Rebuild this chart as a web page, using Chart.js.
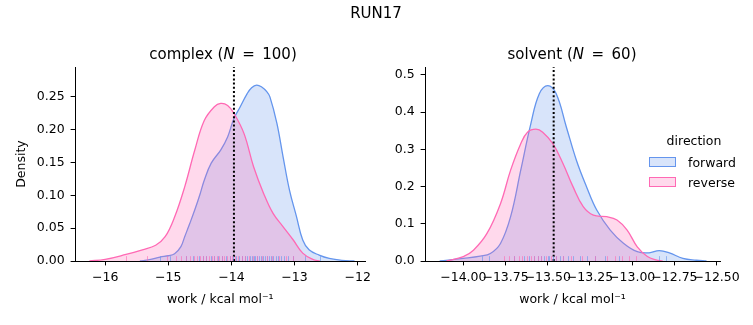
<!DOCTYPE html>
<html>
<head>
<meta charset="utf-8">
<script src="https://cdn.jsdelivr.net/npm/chart.js@4.4.1/dist/chart.umd.min.js"></script>
<style>
  body { margin: 0; background: #fff; font-family: "DejaVu Sans", sans-serif; }
  #fig { position: relative; width: 753px; height: 325px; overflow: hidden; background: #fff; }
  canvas { position: absolute; top: 0; }
  .txt { position: absolute; white-space: nowrap; color: #000; line-height: 1; transform: translateX(-50%); }
  .big { font-size: 15px; }
  .small { font-size: 12.5px; }
  .swatch { position: absolute; width: 25px; height: 8px; border: 1px solid; }
  .leglabel { position: absolute; font-size: 12.5px; line-height: 1; white-space: nowrap; }
</style>
</head>
<body>
<div id="fig">
  <canvas id="complexChart" width="376" height="325" style="left:0"></canvas>
  <canvas id="solventChart" width="377" height="325" style="left:376px"></canvas>

  <div class="txt big" style="left:376px; top:6px">RUN17</div>
  <div class="txt big" style="left:223px; top:47px">complex (<i>N</i>&ensp;=&ensp;100)</div>
  <div class="txt big" style="left:572px; top:47px">solvent (<i>N</i>&ensp;=&ensp;60)</div>

  <div class="txt small" style="left:694px; top:135px">direction</div>
  <div class="swatch" style="left:649px; top:157px; background:rgba(100,149,237,0.25); border-color:#6495ED"></div>
  <div class="leglabel" style="left:688px; top:157px">forward</div>
  <div class="swatch" style="left:649px; top:177px; background:rgba(255,105,180,0.25); border-color:#FF69B4"></div>
  <div class="leglabel" style="left:688px; top:177px">reverse</div>
</div>

<script>
// complex leg: KDE curves
const complexForwardX = [-15.45, -15.3, -15.13, -15.0, -14.9, -14.8, -14.74, -14.66, -14.58, -14.5, -14.43, -14.32, -14.17, -14.06, -13.96, -13.86, -13.75, -13.68, -13.6, -13.52, -13.44, -13.39, -13.28, -13.18, -13.08, -12.97, -12.87, -12.77, -12.61, -12.45, -12.25, -12.05];
const complexForwardY = [0, 0.002, 0.006, 0.008, 0.011, 0.022, 0.037, 0.057, 0.078, 0.101, 0.123, 0.149, 0.169, 0.189, 0.217, 0.235, 0.255, 0.264, 0.268, 0.265, 0.258, 0.25, 0.21, 0.158, 0.108, 0.068, 0.032, 0.017, 0.009, 0.004, 0.001, 0];
const complexReverseX = [-16.25, -16.0, -15.67, -15.41, -15.2, -15.05, -14.9, -14.74, -14.58, -14.43, -14.27, -14.17, -14.06, -13.96, -13.8, -13.65, -13.49, -13.34, -13.18, -13.02, -12.87, -12.71, -12.6];
const complexReverseY = [0, 0.0025, 0.01, 0.017, 0.024, 0.037, 0.067, 0.113, 0.169, 0.214, 0.235, 0.24, 0.237, 0.225, 0.194, 0.144, 0.103, 0.0725, 0.052, 0.032, 0.012, 0.0025, 0];

// solvent leg
const solventForwardX = [-14.14, -14.0, -13.9, -13.84, -13.78, -13.72, -13.66, -13.6, -13.55, -13.5, -13.45, -13.39, -13.33, -13.27, -13.21, -13.13, -13.05, -12.97, -12.9, -12.84, -12.78, -12.7, -12.62, -12.56];
const solventForwardY = [0, 0.007, 0.013, 0.02, 0.047, 0.119, 0.244, 0.369, 0.449, 0.471, 0.449, 0.36, 0.27, 0.199, 0.137, 0.083, 0.047, 0.025, 0.022, 0.028, 0.022, 0.007, 0.002, 0];
const solventReverseX = [-14.1, -14.0, -13.94, -13.86, -13.78, -13.72, -13.66, -13.62, -13.57, -13.53, -13.47, -13.41, -13.35, -13.29, -13.23, -13.15, -13.09, -13.03, -12.97, -12.91, -12.86, -12.82];
const solventReverseY = [0, 0.012, 0.029, 0.074, 0.154, 0.244, 0.315, 0.346, 0.354, 0.346, 0.315, 0.262, 0.199, 0.146, 0.123, 0.119, 0.11, 0.083, 0.038, 0.012, 0.003, 0];

// individual work values (rug)
const complexForwardWork = [-15.13, -14.98, -14.72, -14.61, -14.52, -14.45, -14.40, -14.33, -14.28, -14.22, -14.15, -14.08, -14.02, -13.97, -13.92, -13.88, -13.83, -13.79, -13.75, -13.71, -13.68, -13.65, -13.62, -13.59, -13.56, -13.53, -13.50, -13.47, -13.44, -13.41, -13.38, -13.34, -13.30, -13.26, -13.21, -13.16, -13.10, -13.03, -12.84, -12.60];
const complexReverseWork = [-15.67, -15.34, -15.02, -14.88, -14.80, -14.72, -14.66, -14.60, -14.55, -14.50, -14.45, -14.40, -14.36, -14.31, -14.27, -14.23, -14.19, -14.15, -14.11, -14.07, -14.03, -13.99, -13.94, -13.89, -13.84, -13.78, -13.72, -13.66, -13.60, -13.52, -13.44, -13.35, -13.25, -13.14, -13.02];
const solventForwardWork = [-13.89, -13.85, -13.70, -13.64, -13.61, -13.58, -13.56, -13.54, -13.52, -13.50, -13.49, -13.47, -13.45, -13.43, -13.41, -13.38, -13.35, -13.31, -13.27, -13.22, -13.16, -13.08, -12.84, -12.80];
const solventReverseWork = [-13.76, -13.73, -13.70, -13.67, -13.65, -13.62, -13.60, -13.58, -13.56, -13.54, -13.51, -13.48, -13.45, -13.41, -13.36, -13.30, -13.22, -13.15, -13.10, -13.06, -13.02, -12.98];

// dotted reference line
const complexMarker = -13.96;
const solventMarker = -13.465;

// ticks
const complexXTicks = [-16, -15, -14, -13, -12];
const complexYTicks = [0, 0.05, 0.10, 0.15, 0.20, 0.25];
const solventXTicks = [-14.0, -13.75, -13.5, -13.25, -13.0, -12.75, -12.5];
const solventYTicks = [0, 0.1, 0.2, 0.3, 0.4, 0.5];

const BLUE = '#6495ED';
const PINK = '#FF69B4';
const FONT = 'DejaVu Sans';

function toPoints(xs, ys) {
    return xs.map((x, i) => ({ x: x, y: ys[i] }));
}

function minus(str) {
    return str.replace('-', '\u2212');
}

function makeRugPlugin(series) {
    return {
        id: 'rug',
        afterDatasetsDraw(chart) {
            const { ctx, chartArea, scales } = chart;
            const h = (chartArea.bottom - chartArea.top) * 0.025;
            ctx.save();
            ctx.lineWidth = 1;
            series.forEach(s => {
                ctx.strokeStyle = s.color;
                s.values.forEach(v => {
                    const x = Math.round(scales.x.getPixelForValue(v)) + 0.5;
                    ctx.beginPath();
                    ctx.moveTo(x, chartArea.bottom);
                    ctx.lineTo(x, chartArea.bottom - h);
                    ctx.stroke();
                });
            });
            ctx.restore();
        }
    };
}

function kdeDataset(points, color, fill, order) {
    return {
        data: points,
        borderColor: color,
        backgroundColor: fill,
        borderWidth: 1.3,
        fill: 'origin',
        pointRadius: 0,
        tension: 0.4,
        order: order
    };
}

function buildPanel(canvasId, cfg) {
    const ctx = document.getElementById(canvasId)?.getContext('2d');
    if (!ctx) {
        console.error('Canvas not found: ' + canvasId);
        return;
    }
    const tickFont = { family: FONT, size: 12.5 };
    new Chart(ctx, {
        type: 'line',
        data: {
            datasets: [
                {
                    data: [{ x: cfg.marker, y: 0 }, { x: cfg.marker, y: cfg.ymax }],
                    borderColor: '#000',
                    borderWidth: 2,
                    borderDash: [2, 2.2],
                    pointRadius: 0,
                    fill: false,
                    order: 0
                },
                kdeDataset(toPoints(cfg.fwdX, cfg.fwdY), BLUE, 'rgba(100,149,237,0.25)', 2),
                kdeDataset(toPoints(cfg.revX, cfg.revY), PINK, 'rgba(255,105,180,0.25)', 1)
            ]
        },
        options: {
            responsive: false,
            animation: false,
            layout: { padding: { top: 67, right: cfg.padRight, left: 0, bottom: 0 } },
            plugins: {
                legend: { display: false },
                tooltip: { enabled: false },
                title: { display: false }
            },
            scales: {
                x: {
                    type: 'linear',
                    min: cfg.xmin,
                    max: cfg.xmax,
                    afterFit: s => { s.height = 64; },
                    afterBuildTicks: a => { a.ticks = cfg.xticks.map(v => ({ value: v })); },
                    ticks: {
                        autoSkip: false,
                        maxRotation: 0,
                        minRotation: 0,
                        padding: 5,
                        color: '#000',
                        font: tickFont,
                        callback: v => minus(v.toFixed(cfg.xdec))
                    },
                    grid: { drawOnChartArea: false, drawTicks: true, tickLength: 4.4, tickColor: '#000', tickWidth: 1 },
                    border: { display: true, color: '#000', width: 1 },
                    title: {
                        display: true,
                        text: 'work / kcal mol\u207B\u00B9',
                        color: '#000',
                        font: tickFont,
                        padding: { top: 0, bottom: 18 }
                    }
                },
                y: {
                    type: 'linear',
                    min: 0,
                    max: cfg.ymax,
                    afterFit: s => { s.width = cfg.yWidth; },
                    afterBuildTicks: a => { a.ticks = cfg.yticks.map(v => ({ value: v })); },
                    ticks: {
                        autoSkip: false,
                        padding: 6,
                        color: '#000',
                        font: tickFont,
                        callback: v => v.toFixed(cfg.ydec)
                    },
                    grid: { drawOnChartArea: false, drawTicks: true, tickLength: 4.4, tickColor: '#000', tickWidth: 1 },
                    border: { display: true, color: '#000', width: 1 },
                    title: {
                        display: cfg.ylabel !== '',
                        text: cfg.ylabel,
                        color: '#000',
                        font: tickFont,
                        padding: { top: 14, bottom: 0 }
                    }
                }
            }
        },
        plugins: [makeRugPlugin([
            { values: cfg.fwdWork, color: 'rgba(100,149,237,0.6)' },
            { values: cfg.revWork, color: 'rgba(255,105,180,0.6)' }
        ])]
    });
}

buildPanel('complexChart', {
    fwdX: complexForwardX, fwdY: complexForwardY,
    revX: complexReverseX, revY: complexReverseY,
    fwdWork: complexForwardWork, revWork: complexReverseWork,
    marker: complexMarker,
    xmin: -16.478, xmax: -11.875, xticks: complexXTicks, xdec: 0,
    ymax: 0.2955, yticks: complexYTicks, ydec: 2,
    yWidth: 75, padRight: 6, ylabel: 'Density'
});

buildPanel('solventChart', {
    fwdX: solventForwardX, fwdY: solventForwardY,
    revX: solventReverseX, revY: solventReverseY,
    fwdWork: solventForwardWork, revWork: solventReverseWork,
    marker: solventMarker,
    xmin: -14.227, xmax: -12.48, xticks: solventXTicks, xdec: 2,
    ymax: 0.521, yticks: solventYTicks, ydec: 1,
    yWidth: 49, padRight: 33, ylabel: ''
});
</script>
</body>
</html>
